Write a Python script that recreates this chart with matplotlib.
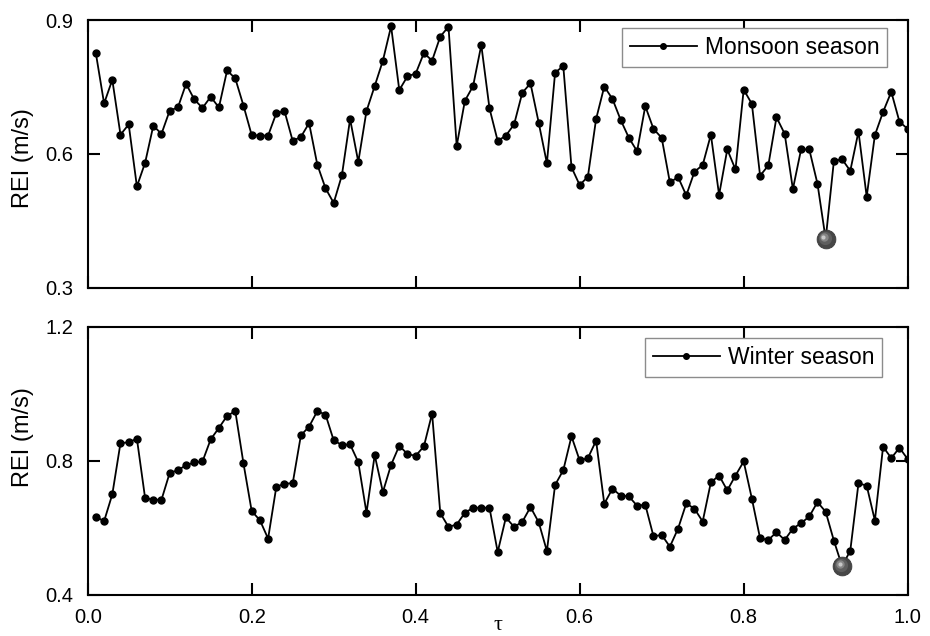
import numpy as np
import matplotlib
matplotlib.use("Agg")
from matplotlib import pyplot as plt
from matplotlib.transforms import offset_copy

plt.rc("font", family=["Liberation Sans", "DejaVu Sans"])

tau = np.round(np.arange(1, 101) * 0.01, 2)

monsoon = [
    0.825, 0.713, 0.766, 0.643, 0.666, 0.527, 0.580, 0.663, 0.645, 0.697,
    0.704, 0.757, 0.722, 0.703, 0.728, 0.704, 0.787, 0.769, 0.708, 0.642,
    0.641, 0.641, 0.691, 0.696, 0.629, 0.638, 0.669, 0.576, 0.523, 0.490,
    0.552, 0.678, 0.582, 0.696, 0.752, 0.809, 0.886, 0.743, 0.774, 0.780,
    0.826, 0.809, 0.863, 0.885, 0.618, 0.719, 0.752, 0.844, 0.702, 0.629,
    0.641, 0.666, 0.737, 0.758, 0.670, 0.579, 0.782, 0.797, 0.570, 0.530,
    0.549, 0.678, 0.751, 0.723, 0.676, 0.636, 0.606, 0.707, 0.656, 0.636,
    0.536, 0.548, 0.507, 0.560, 0.575, 0.643, 0.508, 0.610, 0.565, 0.744,
    0.712, 0.551, 0.574, 0.682, 0.645, 0.521, 0.610, 0.610, 0.533, 0.409,
    0.584, 0.588, 0.562, 0.650, 0.504, 0.642, 0.694, 0.739, 0.672, 0.656,
]

winter = [
    0.633, 0.620, 0.700, 0.853, 0.855, 0.866, 0.689, 0.684, 0.684, 0.764,
    0.772, 0.787, 0.795, 0.798, 0.864, 0.898, 0.934, 0.948, 0.792, 0.650,
    0.623, 0.568, 0.722, 0.732, 0.733, 0.876, 0.902, 0.948, 0.938, 0.861,
    0.847, 0.849, 0.796, 0.645, 0.817, 0.707, 0.788, 0.845, 0.820, 0.815,
    0.843, 0.941, 0.644, 0.603, 0.610, 0.645, 0.660, 0.660, 0.660, 0.528,
    0.631, 0.603, 0.618, 0.662, 0.617, 0.531, 0.728, 0.772, 0.873, 0.801,
    0.808, 0.860, 0.672, 0.717, 0.696, 0.694, 0.666, 0.669, 0.575, 0.579,
    0.544, 0.598, 0.673, 0.657, 0.619, 0.736, 0.756, 0.712, 0.756, 0.798,
    0.687, 0.569, 0.564, 0.587, 0.564, 0.598, 0.614, 0.634, 0.677, 0.648,
    0.562, 0.486, 0.532, 0.733, 0.726, 0.622, 0.842, 0.808, 0.839, 0.805,
]

xticks = [0.0, 0.2, 0.4, 0.6, 0.8, 1.0]
panels = [
    {"y": monsoon, "label": "Monsoon season", "ylim": (0.3, 0.9),
     "yticks": [0.3, 0.6, 0.9], "rect": [0.0943, 0.5476, 0.8817, 0.4209],
     "ylab_y": 0.485, "leg": (0.975, 0.969)},
    {"y": winter, "label": "Winter season", "ylim": (0.4, 1.2),
     "yticks": [0.4, 0.8, 1.2], "rect": [0.0943, 0.0645, 0.8817, 0.4219],
     "ylab_y": 0.587, "leg": (0.969, 0.957)},
]

fig = plt.figure(figsize=(9.3, 6.36), dpi=100)

for i, p in enumerate(panels):
    ax = fig.add_axes(p["rect"])
    y = np.array(p["y"])
    ax.plot(tau, y, "-o", color="k", lw=1.3, ms=5.0, label=p["label"])

    # shaded ball at the minimum
    k = np.argmin(y)
    ax.plot(tau[k], y[k], "o", color="#474747", ms=13.5, mec="#3a3a3a",
            mew=0.6, zorder=5)
    for dx, ms, c in [(-0.8, 9.5, "#5e5e5e"), (-1.4, 6, "#858585"),
                      (-1.8, 3, "#c8c8c8")]:
        tr = offset_copy(ax.transData, fig=fig, x=dx, y=-dx, units="points")
        ax.plot(tau[k], y[k], "o", color=c, ms=ms, mew=0, zorder=6,
                transform=tr)

    ax.set_xlim(0, 1)
    ax.set_ylim(*p["ylim"])
    ax.set_xticks(xticks)
    ax.set_yticks(p["yticks"])
    ax.tick_params(direction="in", length=8.5, width=1.5, top=True,
                   right=True, labelsize=14.5)
    ax.tick_params(axis="y", pad=10.5)
    ax.tick_params(axis="x", pad=9.5)
    for s in ax.spines.values():
        s.set_linewidth(1.5)
    ax.set_ylabel("REI (m/s)", fontsize=17)
    ax.yaxis.set_label_coords(-0.066, p["ylab_y"])
    if i == 0:
        ax.tick_params(labelbottom=False)
    else:
        ax.xaxis.set_major_formatter(plt.FormatStrFormatter("%.1f"))
        ax.set_xlabel("\u03c4", fontsize=16, family="Liberation Serif",
                      va="baseline")
        ax.xaxis.set_label_coords(0.5, -0.13)
    ax.yaxis.set_major_formatter(plt.FormatStrFormatter("%.1f"))

    leg = ax.legend(loc="upper right", bbox_to_anchor=p["leg"],
                    fontsize=16.5, frameon=True, fancybox=False,
                    edgecolor="#8c8c8c", framealpha=1, borderaxespad=0,
                    borderpad=0.35, handlelength=2.9, handletextpad=0.35,
                    markerscale=0.8)
    leg.get_frame().set_linewidth(1.0)

fig.savefig("out.png", dpi=100)
